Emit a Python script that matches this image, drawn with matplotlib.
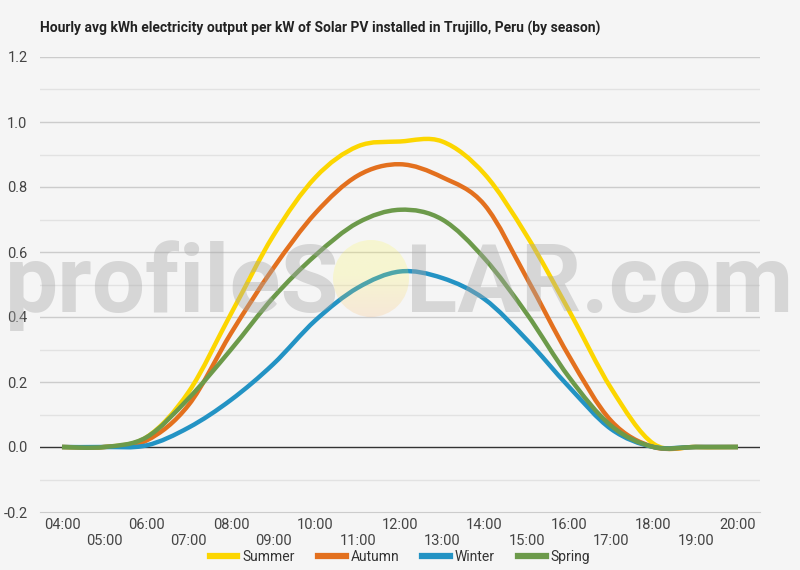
import numpy as np
import matplotlib
matplotlib.use("Agg")
import matplotlib.pyplot as plt
from matplotlib.path import Path
from matplotlib.patches import PathPatch, Ellipse

hours = list(range(4, 21))
hour_labels = [f"{h:02d}:00" for h in hours]
summer = [0, 0, 0.03, 0.17, 0.41, 0.65, 0.83, 0.925, 0.94, 0.94, 0.84, 0.65, 0.42, 0.18, 0.01, 0, 0]
autumn = [0, 0, 0.02, 0.13, 0.35, 0.55, 0.72, 0.835, 0.87, 0.83, 0.745, 0.52, 0.28, 0.08, 0.0, 0, 0]
winter = [0, 0, 0.005, 0.06, 0.145, 0.255, 0.39, 0.49, 0.54, 0.52, 0.455, 0.33, 0.185, 0.055, 0.0, 0, 0]
spring = [0, 0, 0.03, 0.15, 0.30, 0.46, 0.59, 0.69, 0.73, 0.70, 0.58, 0.41, 0.215, 0.065, 0.0, 0, 0]
series = [("Summer", summer, "#fcd600"), ("Autumn", autumn, "#e3701e"),
          ("Winter", winter, "#2393c4"), ("Spring", spring, "#6c9a4a")]

BG = "#f5f5f5"
plt.rcParams['font.family'] = ['Roboto', 'DejaVu Sans']

fig = plt.figure(figsize=(8, 5.7), dpi=100, facecolor=BG)
ax = fig.add_axes([0.05, 1 - 512 / 570, 0.90, (512 - 57) / 570], zorder=0)
ax.set_facecolor(BG)


def smooth_path(xs, ys, k=1 / 6):
    pts = np.column_stack([np.asarray(xs, float), np.asarray(ys, float)])
    n = len(pts)
    verts = [pts[0]]
    codes = [Path.MOVETO]
    for i in range(n - 1):
        p0 = pts[i - 1] if i > 0 else pts[i]
        p1 = pts[i]
        p2 = pts[i + 1]
        p3 = pts[i + 2] if i + 2 < n else pts[i + 1]
        verts += [p1 + (p2 - p0) * k, p2 - (p3 - p1) * k, p2]
        codes += [Path.CURVE4] * 3
    return Path(verts, codes)


for name, vals, col in series:
    ax.add_patch(PathPatch(smooth_path(hours, vals), facecolor="none", edgecolor=col,
                           lw=3.2, capstyle="butt", joinstyle="round", zorder=3))
    ax.plot([], [], color=col, lw=4.5, label=name)

ax.set_xlim(4 - 22 / 42.25, 20 + 22 / 42.25)
ax.set_ylim(-0.2, 1.2)

for y in np.arange(-0.1, 1.21, 0.1):
    yr = round(y, 1)
    if abs(yr) < 1e-9:
        continue
    major = abs(round(yr * 10)) % 2 == 0
    ax.axhline(yr, color="#cccccc" if major else "#e2e2e2", lw=1.0, zorder=1)
ax.axhline(0, color="#333333", lw=1.0, zorder=2)

for s in ax.spines.values():
    s.set_visible(False)
ax.spines['bottom'].set_visible(True)
ax.spines['bottom'].set_color("#cccccc")

yt = np.round(np.arange(-0.2, 1.21, 0.2), 1)
ax.set_yticks(yt)
ax.set_yticklabels([f"{v:.1f}" for v in yt])
ax.set_xticks(hours)
ax.set_xticklabels([lab if h % 2 == 0 else "\n" + lab for h, lab in zip(hours, hour_labels)])
ax.tick_params(axis='both', length=0, labelsize=10.5, labelcolor="#444444")
ax.tick_params(axis='x', pad=4)
ax.tick_params(axis='y', pad=9)

# watermark sun (gradient disc, translucent, above the lines)
sun_ax = fig.add_axes([333 / 800, 1 - 317 / 570, 76 / 800, 77 / 570], zorder=2)
sun_ax.axis('off')
sun_ax.patch.set_alpha(0)
t = np.linspace(0, 1, 100)[:, None]
top = np.array([1.0, 0.97, 0.25])
bot = np.array([1.0, 0.70, 0.38])
mix = np.clip((t - 0.45) / 0.55, 0, 1)
rgb = top * (1 - mix[..., None]) + bot * mix[..., None]
rgba = np.concatenate([np.repeat(rgb, 2, axis=1), np.full((100, 2, 1), 0.2)], axis=2)
im = sun_ax.imshow(rgba, extent=[0, 1, 0, 1], aspect='auto', origin='upper')
im.set_clip_path(Ellipse((0.5, 0.5), 1, 1, transform=sun_ax.transAxes))

# watermark text
wm = dict(fontsize=68, fontweight="bold", color="#a8a8a8", alpha=0.4,
          fontfamily="Roboto", va="baseline", ha="left", zorder=3)
fig.text(5 / 800, 1 - 312 / 570, "profileS", **wm)
fig.text(406 / 800, 1 - 312 / 570, "LAR.com", **wm)

fig.text(40 / 800, 1 - 28 / 570,
         "Hourly avg kWh electricity output per kW of Solar PV installed in Trujillo, Peru (by season)",
         fontsize=10.0, fontweight="bold", color="#222222", va="center", ha="left")

leg = fig.legend(loc="center", bbox_to_anchor=(0.5, 1 - 557 / 570), ncol=4, frameon=False,
                 fontsize=10.0, handlelength=2.0, columnspacing=1.65, handletextpad=0.36)
for tx in leg.get_texts():
    tx.set_color("#333333")

fig.savefig("out.png", dpi=100, facecolor=BG)
